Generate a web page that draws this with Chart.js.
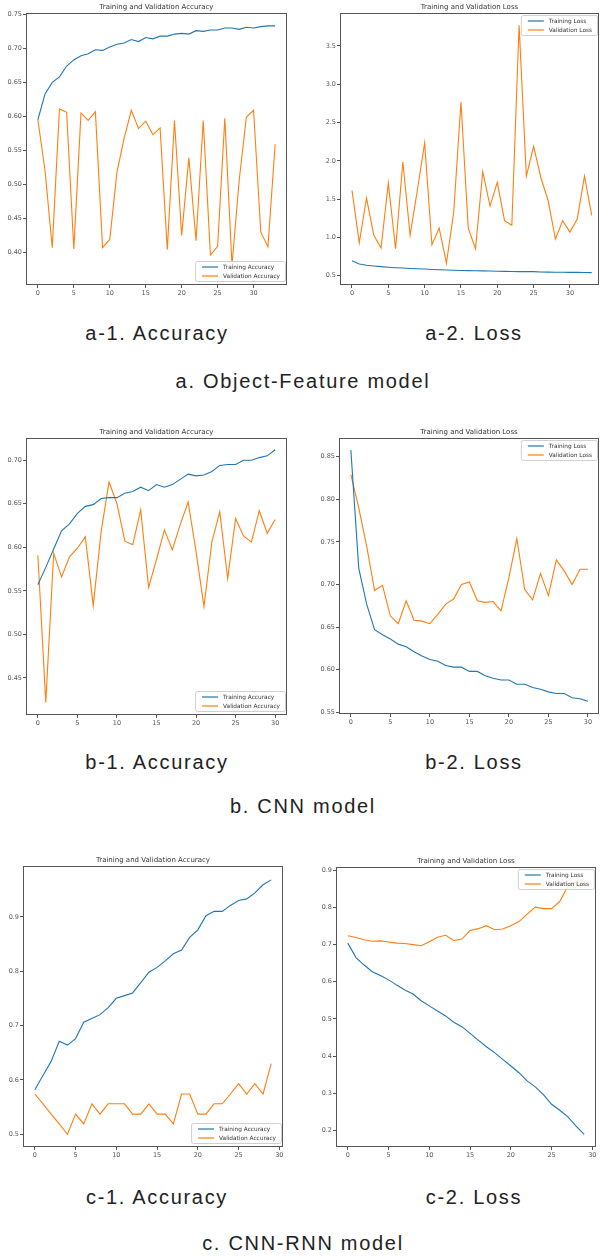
<!DOCTYPE html>
<html>
<head>
<meta charset="utf-8">
<script src="https://cdn.jsdelivr.net/npm/chart.js@4.4.1/dist/chart.umd.min.js"></script>
<style>
  html, body { margin: 0; padding: 0; background: #fff; }
  body { width: 600px; height: 1257px; position: relative; overflow: hidden; }
  canvas { position: absolute; }
  .cap {
    position: absolute;
    transform: translateX(-50%);
    font-family: "Liberation Sans", Arial, sans-serif;
    font-size: 20px;
    line-height: 22px;
    letter-spacing: 1.7px;
    color: #222;
    white-space: nowrap;
  }
</style>
</head>
<body>
<canvas id="objAcc" width="300" height="300" style="left:0;top:0"></canvas>
<canvas id="objLoss" width="300" height="300" style="left:300px;top:0"></canvas>
<canvas id="cnnAcc" width="300" height="305" style="left:0;top:420px"></canvas>
<canvas id="cnnLoss" width="300" height="305" style="left:300px;top:420px"></canvas>
<canvas id="rnnAcc" width="300" height="310" style="left:0;top:850px"></canvas>
<canvas id="rnnLoss" width="300" height="310" style="left:300px;top:850px"></canvas>

<div class="cap" style="left:157px;top:322px">a-1. Accuracy</div>
<div class="cap" style="left:474px;top:322px">a-2. Loss</div>
<div class="cap" style="left:303px;top:370px">a. Object-Feature model</div>
<div class="cap" style="left:157px;top:751px">b-1. Accuracy</div>
<div class="cap" style="left:474px;top:751px">b-2. Loss</div>
<div class="cap" style="left:303px;top:795px">b. CNN model</div>
<div class="cap" style="left:157px;top:1186px">c-1. Accuracy</div>
<div class="cap" style="left:474px;top:1186px">c-2. Loss</div>
<div class="cap" style="left:303px;top:1232px">c. CNN-RNN model</div>

<script>
// valores
const objTrainAcc = [0.595, 0.633, 0.650, 0.658, 0.674, 0.683, 0.689, 0.692, 0.698, 0.697, 0.702, 0.706, 0.708, 0.713, 0.710, 0.716, 0.714, 0.718, 0.718, 0.721, 0.722, 0.721, 0.726, 0.725, 0.727, 0.727, 0.730, 0.730, 0.728, 0.731, 0.730, 0.732, 0.733, 0.733];
const objValAcc = [0.595, 0.520, 0.407, 0.611, 0.606, 0.405, 0.605, 0.594, 0.607, 0.407, 0.419, 0.518, 0.568, 0.609, 0.582, 0.593, 0.573, 0.583, 0.404, 0.594, 0.425, 0.539, 0.417, 0.594, 0.396, 0.409, 0.597, 0.381, 0.506, 0.599, 0.609, 0.430, 0.408, 0.559];
const objTrainLoss = [0.695, 0.655, 0.638, 0.628, 0.620, 0.612, 0.606, 0.601, 0.596, 0.592, 0.588, 0.583, 0.580, 0.576, 0.573, 0.570, 0.568, 0.566, 0.564, 0.562, 0.560, 0.558, 0.557, 0.555, 0.555, 0.554, 0.550, 0.548, 0.547, 0.546, 0.545, 0.545, 0.543, 0.541];
const objValLoss = [1.615, 0.930, 1.515, 1.030, 0.862, 1.710, 0.853, 1.985, 1.030, 1.620, 2.233, 0.905, 1.123, 0.666, 1.330, 2.769, 1.123, 0.853, 1.860, 1.410, 1.720, 1.220, 1.160, 3.770, 1.800, 2.190, 1.780, 1.480, 0.980, 1.220, 1.070, 1.240, 1.800, 1.290];

const cnnTrainAcc = [0.557, 0.577, 0.598, 0.619, 0.627, 0.639, 0.647, 0.649, 0.656, 0.657, 0.657, 0.662, 0.664, 0.669, 0.665, 0.672, 0.669, 0.672, 0.678, 0.684, 0.682, 0.683, 0.687, 0.694, 0.695, 0.695, 0.700, 0.700, 0.703, 0.705, 0.712];
const cnnValAcc = [0.591, 0.422, 0.593, 0.566, 0.589, 0.599, 0.612, 0.533, 0.618, 0.675, 0.650, 0.607, 0.603, 0.643, 0.554, 0.586, 0.620, 0.597, 0.626, 0.652, 0.595, 0.532, 0.606, 0.641, 0.564, 0.633, 0.613, 0.606, 0.642, 0.616, 0.632];
const cnnTrainLoss = [0.858, 0.719, 0.677, 0.647, 0.641, 0.636, 0.630, 0.627, 0.621, 0.616, 0.612, 0.610, 0.605, 0.603, 0.603, 0.598, 0.598, 0.593, 0.590, 0.588, 0.588, 0.583, 0.583, 0.579, 0.577, 0.574, 0.572, 0.572, 0.567, 0.566, 0.563];
const cnnValLoss = [0.829, 0.790, 0.745, 0.693, 0.699, 0.663, 0.654, 0.681, 0.658, 0.657, 0.654, 0.665, 0.677, 0.683, 0.700, 0.703, 0.681, 0.679, 0.680, 0.669, 0.708, 0.754, 0.694, 0.682, 0.713, 0.687, 0.729, 0.716, 0.700, 0.718, 0.718];

const rnnTrainAcc = [0.582, 0.608, 0.634, 0.671, 0.664, 0.676, 0.706, 0.713, 0.720, 0.733, 0.750, 0.755, 0.760, 0.779, 0.798, 0.807, 0.819, 0.832, 0.839, 0.862, 0.876, 0.902, 0.910, 0.910, 0.921, 0.930, 0.933, 0.944, 0.959, 0.968];
const rnnValAcc = [0.574, 0.556, 0.537, 0.519, 0.500, 0.537, 0.519, 0.556, 0.537, 0.556, 0.556, 0.556, 0.537, 0.537, 0.556, 0.537, 0.537, 0.519, 0.574, 0.574, 0.537, 0.537, 0.556, 0.556, 0.574, 0.593, 0.574, 0.593, 0.574, 0.630];
const rnnTrainLoss = [0.704, 0.665, 0.645, 0.627, 0.617, 0.605, 0.591, 0.578, 0.567, 0.549, 0.535, 0.521, 0.508, 0.491, 0.479, 0.461, 0.443, 0.425, 0.409, 0.391, 0.373, 0.355, 0.333, 0.317, 0.296, 0.270, 0.254, 0.236, 0.211, 0.189];
const rnnValLoss = [0.724, 0.719, 0.713, 0.709, 0.710, 0.707, 0.704, 0.703, 0.700, 0.697, 0.708, 0.720, 0.725, 0.711, 0.715, 0.738, 0.743, 0.751, 0.740, 0.742, 0.751, 0.762, 0.782, 0.801, 0.797, 0.797, 0.816, 0.857, 0.870, 0.875];

const epochTicks = [0, 5, 10, 15, 20, 25, 30];
const objAccTicks = [0.40, 0.45, 0.50, 0.55, 0.60, 0.65, 0.70, 0.75];
const objLossTicks = [0.5, 1.0, 1.5, 2.0, 2.5, 3.0, 3.5];
const cnnAccTicks = [0.45, 0.50, 0.55, 0.60, 0.65, 0.70];
const cnnLossTicks = [0.55, 0.60, 0.65, 0.70, 0.75, 0.80, 0.85];
const rnnAccTicks = [0.5, 0.6, 0.7, 0.8, 0.9];
const rnnLossTicks = [0.2, 0.3, 0.4, 0.5, 0.6, 0.7, 0.8, 0.9];

const BLUE = "#1f77b4";
const ORANGE = "#ff7f0e";
const AXIS = "#555";

// marco, título y leyenda al estilo matplotlib
const mplPlugin = {
  id: "mpl",
  afterDraw(chart, args, o) {
    const { ctx, chartArea: a } = chart;
    ctx.save();
    ctx.strokeStyle = AXIS;
    ctx.lineWidth = 1;
    ctx.strokeRect(Math.round(a.left) + 0.5, Math.round(a.top) + 0.5,
      Math.round(a.right - a.left) - 1, Math.round(a.bottom - a.top) - 1);

    ctx.fillStyle = "#333";
    ctx.font = '7px "DejaVu Sans"';
    ctx.textAlign = "center";
    ctx.textBaseline = "middle";
    ctx.fillText(o.title, (a.left + a.right) / 2, a.top - 6);

    ctx.font = '5.8px "DejaVu Sans"';
    const items = chart.data.datasets;
    const tw = Math.max(...items.map((d) => ctx.measureText(d.label).width));
    const w = 7 + 16 + 5 + tw + 5;
    const h = 20;
    const x = a.right - 2 - w;
    const y = o.legend === "lower" ? a.bottom - 4 - h : a.top + 2;
    ctx.fillStyle = "rgba(255,255,255,0.85)";
    ctx.strokeStyle = "#d0d0d0";
    ctx.beginPath();
    ctx.roundRect(x + 0.5, y + 0.5, w, h, 2);
    ctx.fill();
    ctx.stroke();
    ctx.textAlign = "left";
    items.forEach((d, i) => {
      const yy = y + 6 + i * 9;
      ctx.strokeStyle = d.borderColor;
      ctx.lineWidth = 1.2;
      ctx.beginPath();
      ctx.moveTo(x + 7, yy);
      ctx.lineTo(x + 23, yy);
      ctx.stroke();
      ctx.fillStyle = "#333";
      ctx.fillText(d.label, x + 28, yy);
    });
    ctx.restore();
  },
};

function toPoints(arr) {
  return arr.map((v, i) => ({ x: i, y: v }));
}

function makeChart(id, cfg) {
  const canvas = document.getElementById(id);
  const W = canvas.width, H = canvas.height;
  const area = cfg.area;
  new Chart(canvas.getContext("2d"), {
    type: "line",
    data: {
      datasets: [
        { label: cfg.labels[0], data: toPoints(cfg.train), borderColor: BLUE },
        { label: cfg.labels[1], data: toPoints(cfg.val), borderColor: ORANGE },
      ],
    },
    options: {
      responsive: false,
      animation: false,
      events: [],
      layout: { padding: { left: 0, top: area[1], right: W - area[2], bottom: 0 } },
      elements: {
        line: { borderWidth: 1.1, tension: 0, fill: false },
        point: { radius: 0 },
      },
      scales: {
        x: {
          type: "linear",
          min: cfg.xRange[0],
          max: cfg.xRange[1],
          afterFit: (axis) => { axis.height = H - area[3]; },
          afterBuildTicks: (axis) => { axis.ticks = epochTicks.map((v) => ({ value: v })); },
          grid: { drawOnChartArea: false, tickLength: 3, color: AXIS },
          border: { display: false },
          ticks: { padding: 1, maxRotation: 0, color: "#555", font: { family: "DejaVu Sans", size: 6.5 } },
        },
        y: {
          type: "linear",
          min: cfg.yRange[0],
          max: cfg.yRange[1],
          afterFit: (axis) => { axis.width = area[0]; },
          afterBuildTicks: (axis) => { axis.ticks = cfg.yTicks.map((v) => ({ value: v })); },
          grid: { drawOnChartArea: false, tickLength: 3, color: AXIS },
          border: { display: false },
          ticks: {
            padding: 1,
            color: "#555",
            font: { family: "DejaVu Sans", size: 6.5 },
            callback: (v) => v.toFixed(cfg.digits),
          },
        },
      },
      plugins: {
        legend: { display: false },
        tooltip: { enabled: false },
        mpl: { title: cfg.title, legend: cfg.legend },
      },
    },
    plugins: [mplPlugin],
  });
}

const accLabels = ["Training Accuracy", "Validation Accuracy"];
const lossLabels = ["Training Loss", "Validation Loss"];

makeChart("objAcc", {
  train: objTrainAcc, val: objValAcc, labels: accLabels, title: "Training and Validation Accuracy",
  yTicks: objAccTicks, digits: 2, xRange: [-1.65, 34.65], yRange: [0.352, 0.752],
  area: [26, 13, 287, 285], legend: "lower",
});
makeChart("objLoss", {
  train: objTrainLoss, val: objValLoss, labels: lossLabels, title: "Training and Validation Loss",
  yTicks: objLossTicks, digits: 1, xRange: [-1.65, 34.0], yRange: [0.38, 3.93],
  area: [40, 13, 299, 285], legend: "upper",
});
makeChart("cnnAcc", {
  train: cnnTrainAcc, val: cnnValAcc, labels: accLabels, title: "Training and Validation Accuracy",
  yTicks: cnnAccTicks, digits: 2, xRange: [-1.5, 31.5], yRange: [0.4075, 0.7255],
  area: [26, 18, 287, 295], legend: "lower",
});
makeChart("cnnLoss", {
  train: cnnTrainLoss, val: cnnValLoss, labels: lossLabels, title: "Training and Validation Loss",
  yTicks: cnnLossTicks, digits: 2, xRange: [-1.5, 31.4], yRange: [0.548, 0.872],
  area: [39, 18, 299, 294], legend: "upper",
});
makeChart("rnnAcc", {
  train: rnnTrainAcc, val: rnnValAcc, labels: accLabels, title: "Training and Validation Accuracy",
  yTicks: rnnAccTicks, digits: 1, xRange: [-1.45, 30.45], yRange: [0.4765, 0.9935],
  area: [23, 16, 283, 297], legend: "lower",
});
makeChart("rnnLoss", {
  train: rnnTrainLoss, val: rnnValLoss, labels: lossLabels, title: "Training and Validation Loss",
  yTicks: rnnLossTicks, digits: 1, xRange: [-1.45, 30.45], yRange: [0.155, 0.909],
  area: [36, 17, 296, 297], legend: "upper",
});
</script>
</body>
</html>
